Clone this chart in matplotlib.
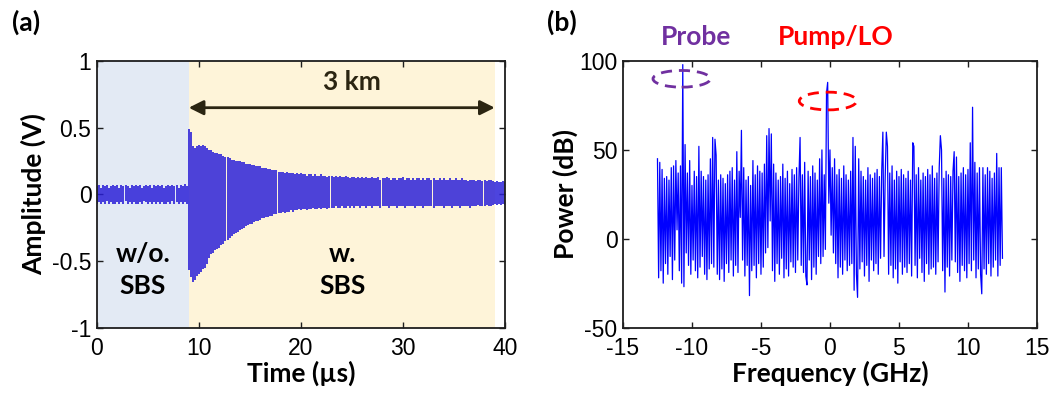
import numpy as np
import matplotlib
matplotlib.use("Agg")
import matplotlib.pyplot as plt
from matplotlib.patches import Ellipse

plt.rcParams['font.family'] = ['Liberation Sans', 'DejaVu Sans']
plt.rcParams['axes.unicode_minus'] = False

# ---------------- (a) time trace: per-sample upper / lower excursion ----------------
time_us = np.linspace(0, 40, 201)
trace_upper = [
    0.06, 0.07, 0.05, 0.07, 0.06, 0.07, 0.05, 0.06, 0.07, 0.06,
    0.07, 0.05, 0.07, 0.06, 0.07, 0.06, 0.05, 0.07, 0.06, 0.07,
    0.06, 0.07, 0.05, 0.06, 0.07, 0.06, 0.07, 0.05, 0.07, 0.06,
    0.07, 0.06, 0.07, 0.05, 0.06, 0.07, 0.06, 0.07, 0.06, 0.07,
    0.05, 0.07, 0.06, 0.08, 0.06,
    0.49, 0.47, 0.36, 0.35, 0.36, 0.37, 0.36, 0.37, 0.36, 0.35,
    0.33, 0.33, 0.32, 0.31, 0.31, 0.30, 0.30, 0.29, 0.28, 0.28,
    0.27, 0.26, 0.26, 0.25, 0.25, 0.25, 0.24, 0.24, 0.23, 0.23,
    0.23, 0.22, 0.22, 0.21, 0.21, 0.21, 0.20, 0.20, 0.20, 0.19,
    0.19, 0.18, 0.18, 0.18, 0.17, 0.17, 0.17, 0.16, 0.17, 0.16,
    0.16, 0.16, 0.15, 0.16, 0.15, 0.16, 0.15, 0.15, 0.14, 0.15,
    0.15, 0.14, 0.15, 0.14, 0.14, 0.15, 0.14, 0.14, 0.13, 0.14,
    0.14, 0.13, 0.14, 0.13, 0.14, 0.13, 0.13, 0.14, 0.13, 0.12,
    0.13, 0.13, 0.12, 0.13, 0.12, 0.13, 0.12, 0.13, 0.12, 0.12,
    0.13, 0.12, 0.12, 0.13, 0.11, 0.12, 0.12, 0.13, 0.12, 0.11,
    0.12, 0.12, 0.11, 0.12, 0.12, 0.13, 0.11, 0.12, 0.12, 0.11,
    0.12, 0.11, 0.12, 0.12, 0.11, 0.12, 0.11, 0.12, 0.12, 0.11,
    0.12, 0.11, 0.11, 0.12, 0.11, 0.12, 0.11, 0.11, 0.12, 0.11,
    0.11, 0.12, 0.11, 0.11, 0.12, 0.11, 0.11, 0.10, 0.11, 0.11,
    0.11, 0.10, 0.11, 0.11, 0.10, 0.11, 0.10, 0.11, 0.11, 0.10,
    0.09, 0.10, 0.09, 0.09, 0.10, 0.09,
]
trace_lower = [
    -0.07, -0.06, -0.07, -0.06, -0.07, -0.05, -0.07, -0.06, -0.07, -0.07,
    -0.06, -0.07, -0.06, -0.07, -0.05, -0.07, -0.06, -0.07, -0.06, -0.07,
    -0.07, -0.06, -0.07, -0.05, -0.06, -0.07, -0.06, -0.07, -0.06, -0.07,
    -0.06, -0.07, -0.06, -0.07, -0.07, -0.06, -0.07, -0.05, -0.07, -0.06,
    -0.07, -0.06, -0.07, -0.06, -0.07,
    -0.57, -0.62, -0.66, -0.64, -0.61, -0.60, -0.58, -0.56, -0.55, -0.52,
    -0.48, -0.45, -0.44, -0.42, -0.41, -0.40, -0.38, -0.37, -0.35, -0.34,
    -0.33, -0.31, -0.30, -0.29, -0.28, -0.27, -0.26, -0.25, -0.24, -0.23,
    -0.22, -0.22, -0.21, -0.20, -0.20, -0.19, -0.18, -0.18, -0.17, -0.17,
    -0.16, -0.16, -0.15, -0.15, -0.14, -0.14, -0.13, -0.14, -0.13, -0.13,
    -0.12, -0.13, -0.12, -0.12, -0.11, -0.12, -0.11, -0.11, -0.12, -0.11,
    -0.11, -0.10, -0.11, -0.11, -0.10, -0.11, -0.10, -0.10, -0.11, -0.10,
    -0.10, -0.10, -0.09, -0.10, -0.10, -0.09, -0.10, -0.10, -0.09, -0.10,
    -0.09, -0.10, -0.09, -0.09, -0.10, -0.09, -0.09, -0.10, -0.09, -0.09,
    -0.10, -0.09, -0.09, -0.09, -0.10, -0.09, -0.09, -0.09, -0.10, -0.09,
    -0.09, -0.09, -0.10, -0.09, -0.09, -0.09, -0.10, -0.09, -0.09, -0.09,
    -0.09, -0.10, -0.09, -0.09, -0.09, -0.10, -0.09, -0.09, -0.09, -0.09,
    -0.10, -0.09, -0.09, -0.09, -0.09, -0.10, -0.09, -0.09, -0.09, -0.10,
    -0.09, -0.09, -0.09, -0.10, -0.09, -0.09, -0.09, -0.09, -0.10, -0.09,
    -0.09, -0.09, -0.08, -0.09, -0.09, -0.09, -0.08, -0.09, -0.09, -0.08,
    -0.07, -0.08, -0.07, -0.08, -0.07, -0.08,
]
no_sbs_span = (0, 9)
sbs_span = (9, 39)
time_ticks = [0, 10, 20, 30, 40]
amp_ticks = [-1, -0.5, 0, 0.5, 1]

# ---------------- (b) spectrum, 12 bins per GHz ----------------
freq_ghz = np.linspace(-12.5, 12.5, 301)
power_db = [
    45, -22, 43, -18, 39, -25, 34, -14, 35, -20, 33, -10,
    40, -23, 41, -12, 44, 5, 37, -18, 41, -25, 98, -27,
    53, -8, 37, -15, 44, -20, 30, -12, 38, -18, 35, -22,
    52, -16, 38, -10, 35, -20, 33, -23, 36, -17, 45, -14,
    57, -16, 56, 47, -20, 33, -23, 36, -17, 34, -24, 31,
    -14, 36, -19, 38, -12, 40, -21, 33, -15, 49, -19, 38,
    12, 61, -12, 40, -21, 33, -15, 35, -32, 30, -18, 44,
    -15, 36, -22, 41, -14, 38, -20, 37, -16, 42, -8, 58,
    -5, 62, 10, 59, -18, 42, -24, 37, -14, 33, -20, 35,
    -11, 42, -22, 34, -17, 38, -21, 31, -13, 39, -16, 36,
    -19, 40, -12, 34, 57, -15, 36, -19, 43, -21, -26, 38,
    -12, 35, -23, 41, -16, 37, -20, 33, -10, 45, -14, 50,
    -10, 36, -6, 82, 88, 20, 50, 2, 40, -8, 45, -14,
    36, -22, 39, -16, 34, -20, 41, -12, 36, -18, 33, -15,
    38, -14, 57, -29, 52, -20, -33, 45, -17, 38, -13, 35,
    -21, 33, -15, 40, -24, 36, -12, 34, -18, 37, -14, 39,
    -20, 35, -11, 38, 60, -10, 34, 60, 52, -20, 37, -15,
    41, -22, 33, -17, 38, -25, 35, -13, 39, -20, 36, -16,
    34, -19, 38, -14, 33, -21, 54, 52, -15, 36, -22, 40,
    -11, 33, -19, 37, -24, 35, -14, 39, -20, 36, -17, 41,
    -16, 34, -20, 37, -13, 40, 58, 50, -18, 34, -30, 38,
    -16, 36, -21, 35, -12, 38, 49, -13, 46, -19, 35, -24,
    37, -15, 40, -18, 36, -22, 39, -14, 54, -18, 74, -12,
    43, -22, 37, -17, 40, -20, -31, 40, -17, 36, -20, 40,
    -14, 38, -21, 34, -16, 37, -12, 48, -21, 40, -15, 40,
    -11,
]
freq_ticks = [-15, -10, -5, 0, 5, 10, 15]
power_ticks = [-50, 0, 50, 100]
probe_mark = (-10.75, 90)
pump_mark = (-0.15, 77.5)

label_font = ['Lato', 'DejaVu Sans']
label_size = 19
frame_col = '#1e1e1e'

fig = plt.figure(figsize=(10.55, 3.99), dpi=100)
ax1 = fig.add_axes([0.0919, 0.179, 0.3867, 0.668])
ax2 = fig.add_axes([0.5905, 0.179, 0.3924, 0.668])

for ax in (ax1, ax2):
    ax.tick_params(direction='in', length=4, width=1.0, top=True, right=True,
                   labelsize=16.5, pad=4, colors=frame_col, labelcolor='black')
    ax.tick_params(axis='x', pad=7)
    for s in ax.spines.values():
        s.set_linewidth(1.3)
        s.set_color(frame_col)

# panel (a)
ax1.axvspan(*no_sbs_span, color='#e3eaf4', lw=0, zorder=0)
ax1.axvspan(*sbs_span, color='#fef4d9', lw=0, zorder=0)
ax1.vlines(time_us, trace_lower, trace_upper, color='#2a1fd8', lw=1.2, zorder=2)
ax1.set_xlim(0, 40)
ax1.set_ylim(-1, 1)
ax1.set_xticks(time_ticks)
ax1.set_yticks(amp_ticks)
ax1.set_yticklabels(['-1', '-0.5', '0', '0.5', '1'])
ax1.set_xlabel('Time (µs)', fontsize=label_size, fontweight='bold', family=label_font, labelpad=0)
ax1.set_ylabel('Amplitude (V)', fontsize=label_size, fontweight='bold', family=label_font, labelpad=4)
ax1.annotate('', xy=(sbs_span[0], 0.65), xytext=(sbs_span[1], 0.65),
             arrowprops=dict(arrowstyle='<|-|>', color='#2b2512', lw=2,
                             mutation_scale=22, shrinkA=0, shrinkB=0), zorder=3)
ax1.text(25, 0.84, '3 km', ha='center', va='center', fontsize=label_size,
         fontweight='bold', family=label_font, color='#2b2512')
ax1.text(4.5, -0.57, 'w/o.\nSBS', ha='center', va='center', fontsize=label_size,
         fontweight='bold', family=label_font, linespacing=1.4)
ax1.text(24.1, -0.57, 'w.\nSBS', ha='center', va='center', fontsize=label_size,
         fontweight='bold', family=label_font, linespacing=1.4)

# panel (b)
ax2.plot(freq_ghz, power_db, color='#0000ff', lw=0.9, zorder=2)
ax2.set_xlim(-15, 15)
ax2.set_ylim(-50, 100)
ax2.set_xticks(freq_ticks)
ax2.set_yticks(power_ticks)
ax2.set_xlabel('Frequency (GHz)', fontsize=label_size, fontweight='bold', family=label_font, labelpad=0)
ax2.set_ylabel('Power (dB)', fontsize=label_size, fontweight='bold', family=label_font, labelpad=1)
ax2.add_patch(Ellipse(probe_mark, 4.15, 9.4, fill=False, ec='#7030a0', lw=2,
                      ls=(0, (4, 2.5)), zorder=3))
ax2.add_patch(Ellipse(pump_mark, 4.15, 10, fill=False, ec='#ff0000', lw=2,
                      ls=(0, (4, 2.5)), zorder=3))

fig.text(26 / 1055, 1 - 22 / 399, '(a)', ha='center', va='center', fontsize=label_size,
         fontweight='bold', family=label_font)
fig.text(562 / 1055, 1 - 22 / 399, '(b)', ha='center', va='center', fontsize=label_size,
         fontweight='bold', family=label_font)
fig.text(696 / 1055, 1 - 37 / 399, 'Probe', ha='center', va='center', fontsize=label_size,
         fontweight='bold', family=label_font, color='#7030a0')
fig.text(836 / 1055, 1 - 37 / 399, 'Pump/LO', ha='center', va='center', fontsize=label_size,
         fontweight='bold', family=label_font, color='#ff0000')

fig.savefig('out.png', dpi=100)
